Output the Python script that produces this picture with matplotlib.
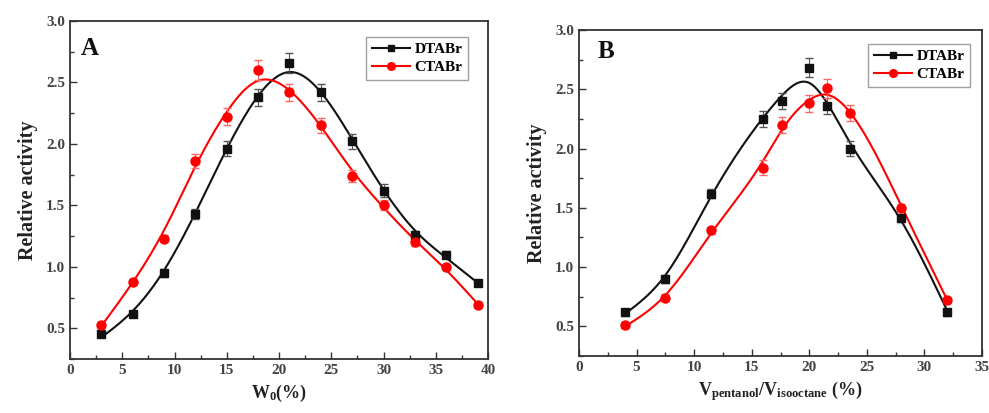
import numpy as np
import matplotlib
matplotlib.use("Agg")
import matplotlib.pyplot as plt
from matplotlib.ticker import MultipleLocator

plt.rcParams['font.family'] = ['Liberation Serif', 'DejaVu Serif']
plt.rcParams['mathtext.fontset'] = 'custom'
plt.rcParams['mathtext.rm'] = 'Liberation Serif:bold'
plt.rcParams['mathtext.it'] = 'Liberation Serif:bold'
plt.rcParams['mathtext.bf'] = 'Liberation Serif:bold'

# Panel A data
a_x = [3, 6, 9, 12, 15, 18, 21, 24, 27, 30, 33, 36, 39]
a_dtabr = [0.45, 0.62, 0.95, 1.43, 1.96, 2.38, 2.66, 2.42, 2.02, 1.62, 1.26, 1.10, 0.87]
a_dtabr_err = [0.02, 0.02, 0.03, 0.04, 0.06, 0.07, 0.08, 0.07, 0.06, 0.05, 0.03, 0.03, 0.02]
a_ctabr = [0.53, 0.88, 1.23, 1.86, 2.22, 2.60, 2.42, 2.15, 1.74, 1.50, 1.20, 1.00, 0.69]
a_ctabr_err = [0.02, 0.02, 0.03, 0.06, 0.07, 0.08, 0.07, 0.06, 0.05, 0.04, 0.03, 0.02, 0.02]

# Panel B data
b_x = [4, 7.5, 11.5, 16, 17.6, 20, 21.5, 23.5, 28, 32]
b_dtabr = [0.62, 0.90, 1.62, 2.25, 2.40, 2.68, 2.36, 2.00, 1.41, 0.62]
b_dtabr_err = [0.03, 0.03, 0.04, 0.07, 0.07, 0.08, 0.07, 0.06, 0.03, 0.03]
b_ctabr = [0.51, 0.74, 1.31, 1.84, 2.20, 2.38, 2.51, 2.30, 1.50, 0.72]
b_ctabr_err = [0.02, 0.03, 0.03, 0.06, 0.07, 0.07, 0.08, 0.07, 0.03, 0.02]


def smooth_curve(x, y, lam=2.0, n=400):
    """Whittaker-type smoothing spline evaluated on a dense grid."""
    x = np.asarray(x, float); y = np.asarray(y, float)
    g = np.linspace(x.min(), x.max(), n)
    h = g[1] - g[0]
    W = np.zeros((len(x), n))
    for i, xi in enumerate(x):
        j = min(int((xi - g[0]) / h), n - 2)
        t = (xi - g[j]) / h
        W[i, j] = 1 - t
        W[i, j + 1] = t
    D = np.diff(np.eye(n), 2, axis=0) / h**2
    A = W.T @ W + lam * h * (D.T @ D) * 1e-3
    z = np.linalg.solve(A, W.T @ y)
    return g, z


BLACK = '#111111'
RED = '#ff0000'


def panel(ax, x, d, de, c, ce, xlim, xmaj, xlabel, letter, letpos, legpos, lam_d, lam_c):
    gx, gy = smooth_curve(x, d, lam_d)
    ax.plot(gx, gy, color=BLACK, lw=1.5, zorder=3)
    gx, gy = smooth_curve(x, c, lam_c)
    ax.plot(gx, gy, color=RED, lw=1.5, zorder=3)
    ax.errorbar(x, d, yerr=de, fmt='s', color=BLACK, ms=6, capsize=3,
                elinewidth=0.8, ecolor='#555555', zorder=4)
    ax.errorbar(x, c, yerr=ce, fmt='o', color=RED, ms=6.5, capsize=3,
                elinewidth=0.8, ecolor='#ff6666', zorder=4)
    ax.plot([], [], color=BLACK, lw=1.5, marker='s', ms=5, label='DTABr')
    ax.plot([], [], color=RED, lw=1.5, marker='o', ms=5.5, label='CTABr')
    leg = ax.legend(loc='upper right', bbox_to_anchor=legpos, frameon=True, fancybox=False,
                    edgecolor='#888888', handlelength=2.5, handletextpad=0.3,
                    borderpad=0.35, labelspacing=0.3, borderaxespad=0,
                    prop={'family': 'Liberation Serif', 'weight': 'bold', 'size': 11})
    leg.get_frame().set_linewidth(1.0)
    ax.set_xlim(*xlim)
    ax.set_ylim(0.25, 3.0)
    ax.xaxis.set_major_locator(MultipleLocator(xmaj))
    ax.xaxis.set_minor_locator(MultipleLocator(xmaj / 2))
    ax.yaxis.set_major_locator(MultipleLocator(0.5))
    ax.yaxis.set_minor_locator(MultipleLocator(0.25))
    ax.tick_params(which='both', direction='in', colors='#333333', labelcolor='#444444',
                   labelsize=11, top=False, right=False)
    ax.tick_params(which='major', length=5, width=1)
    ax.tick_params(which='minor', length=3, width=1)
    for lab in ax.get_xticklabels() + ax.get_yticklabels():
        lab.set_fontweight('bold')
    for s in ax.spines.values():
        s.set_color('#333333')
        s.set_linewidth(1.3)
    ax.set_xlabel(xlabel, fontsize=13, fontweight='bold', color='#222222', labelpad=4)
    ax.set_ylabel('Relative activity', fontsize=14.5, fontweight='bold', color='#222222', labelpad=6)
    ax.text(letpos[0], letpos[1], letter, transform=ax.transAxes, fontsize=18, fontweight='bold',
            va='top', ha='left', color='#111111')


fig = plt.figure(figsize=(9.89, 4.13), dpi=100)
ax1 = fig.add_axes([70 / 989, 1 - 359 / 413, 418 / 989, 338 / 413])
ax2 = fig.add_axes([579 / 989, 1 - 356 / 413, 403 / 989, 326 / 413])

panel(ax1, a_x, a_dtabr, a_dtabr_err, a_ctabr, a_ctabr_err, (0, 40), 5,
      'W$_0$(%)', 'A', (0.025, 0.953), (0.952, 0.953), 5000.0, 5000.0)
panel(ax2, b_x, b_dtabr, b_dtabr_err, b_ctabr, b_ctabr_err, (0, 35), 5,
      'V$_{pentanol}$/V$_{isooctane}$ (%)', 'B', (0.045, 0.97), (0.970, 0.957), 1500.0, 1500.0)

fig.savefig('out.png', dpi=100)
